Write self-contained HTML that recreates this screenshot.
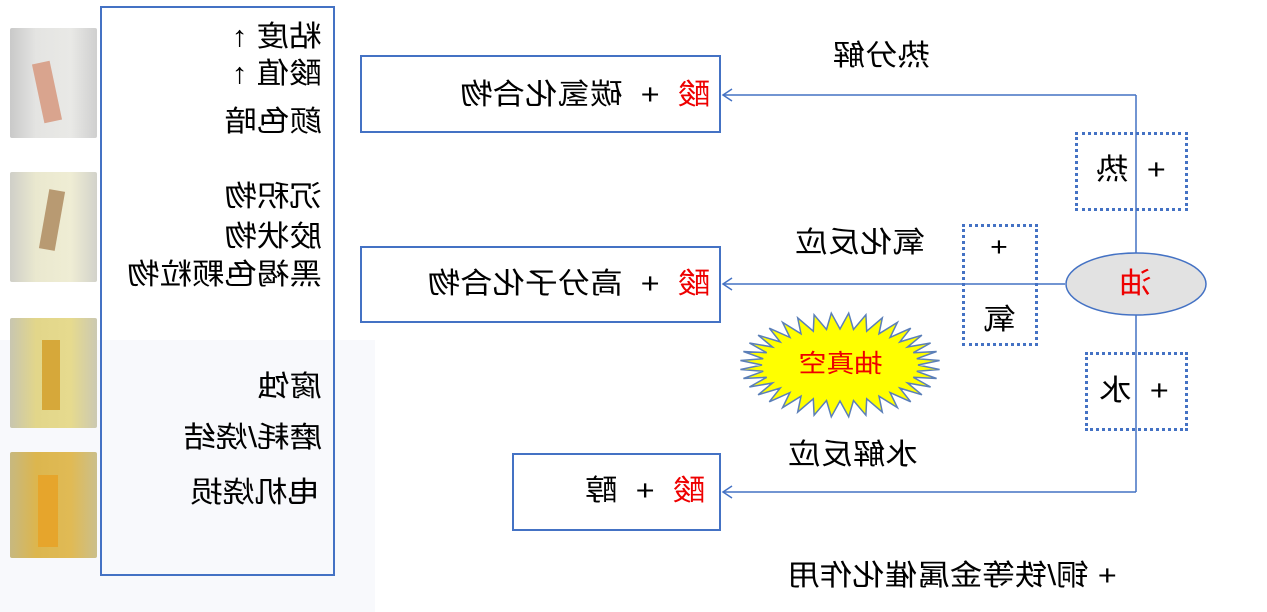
<!DOCTYPE html>
<html><head><meta charset="utf-8">
<style>
html,body{margin:0;padding:0;}
body{width:1267px;height:612px;position:relative;overflow:hidden;background:#fff;font-family:"Liberation Sans","Noto Sans CJK SC",sans-serif;color:#000;}
.a{position:absolute;}
.t{position:absolute;transform:scaleX(-1.12);white-space:nowrap;line-height:1;font-size:29px;}
.L{transform-origin:right center;transform:translateX(-112%) scaleX(-1.12);}
.box{position:absolute;border:2px solid #4472c4;box-sizing:border-box;background:#fff;}
.dot{position:absolute;border:3px dotted #4472c4;box-sizing:border-box;}
.r{color:#e00;}
.ph{position:absolute;left:10px;width:87px;border-radius:2px;}
</style></head><body>
<div class="a" style="left:0;top:340px;width:375px;height:272px;background:#f8f9fc"></div>
<!-- photos -->
<div class="ph" style="top:28px;height:110px;background:linear-gradient(90deg,#c9c9c9,#e4e4e2 30%,#e9e9e6 70%,#cfcfcf)"></div>
<div class="a" style="left:38px;top:62px;width:18px;height:60px;background:#d9a48e;transform:rotate(-12deg)"></div>
<div class="ph" style="top:172px;height:110px;background:linear-gradient(90deg,#cfcfc8,#eae8cf 30%,#efedd4 70%,#d2d2ca)"></div>
<div class="a" style="left:44px;top:190px;width:16px;height:60px;background:#b89a72;transform:rotate(10deg)"></div>
<div class="ph" style="top:318px;height:110px;background:linear-gradient(90deg,#c8c6b0,#e2d68a 30%,#e6da8e 70%,#cbc9b2)"></div>
<div class="a" style="left:42px;top:340px;width:18px;height:70px;background:#d6a83a"></div>
<div class="ph" style="top:452px;height:106px;background:linear-gradient(90deg,#c7b880,#dcb64e 30%,#e0ba55 70%,#cbbf8a)"></div>
<div class="a" style="left:38px;top:475px;width:20px;height:72px;background:#e6a52c"></div>

<!-- left big box -->
<div class="box" style="left:100px;top:6px;width:235px;height:570px;background:transparent"></div>
<div class="t L" style="right:945px;top:23px">粘度 ↑</div>
<div class="t L" style="right:945px;top:60px">酸值 ↑</div>
<div class="t L" style="right:945px;top:108px">颜色暗</div>
<div class="t L" style="right:945px;top:183px">沉积物</div>
<div class="t L" style="right:945px;top:223px">胶状物</div>
<div class="t L" style="right:945px;top:261px">黑褐色颗粒物</div>
<div class="t L" style="right:945px;top:373px">腐蚀</div>
<div class="t L" style="right:945px;top:424px">磨耗/烧结</div>
<div class="t L" style="right:947px;top:479px">电机烧损</div>

<!-- connectors -->
<svg class="a" style="left:0;top:0" width="1267" height="612">
<g stroke="#4472c4" stroke-width="1.5" fill="none">
<line x1="1136" y1="95" x2="1136" y2="492"/>
<line x1="1136" y1="95" x2="724" y2="95"/>
<line x1="1065" y1="284" x2="724" y2="284"/>
<line x1="1136" y1="492" x2="724" y2="492"/>
<polyline points="732,89 723,95 732,101"/>
<polyline points="732,278 723,284 732,290"/>
<polyline points="732,486 723,492 732,498"/>
</g>
<ellipse cx="1136" cy="284" rx="70" ry="31" fill="#e2e2e2" stroke="#4472c4" stroke-width="1.5"/>
<polygon id="star" fill="#ffff00" stroke="#5b7fb8" stroke-width="1.5"/>
</svg>
<script>
(function(){var p=[],n=36,cx=840,cy=365;for(var i=0;i<n*2;i++){var a=Math.PI*i/n;var rx=i%2?100:78,ry=i%2?52:36;p.push((cx+rx*Math.cos(a)).toFixed(1)+","+(cy+ry*Math.sin(a)).toFixed(1));}document.getElementById('star').setAttribute('points',p.join(' '));})();
</script>
<div class="t r" style="left:803px;top:352px;font-size:25px">抽真空</div>
<div class="t r" style="left:1121px;top:270px">油</div>

<!-- result boxes -->
<div class="box" style="left:360px;top:55px;width:361px;height:78px"></div>
<div class="t L" style="right:557px;top:81px"><span class="r">酸</span> &nbsp;+ &nbsp;碳氢化合物</div>
<div class="box" style="left:360px;top:246px;width:361px;height:77px"></div>
<div class="t L" style="right:557px;top:270px"><span class="r">酸</span> &nbsp;+ &nbsp;高分子化合物</div>
<div class="box" style="left:512px;top:453px;width:209px;height:78px"></div>
<div class="t L" style="right:562px;top:477px"><span class="r">酸</span> &nbsp;+ &nbsp;醇</div>

<!-- dotted boxes -->
<div class="dot" style="left:1075px;top:132px;width:113px;height:79px"></div>
<div class="t" style="left:1100px;top:156px">+ &nbsp;热</div>
<div class="dot" style="left:962px;top:224px;width:76px;height:122px"></div>
<div class="t" style="left:991px;top:234px;font-size:27px">+</div>
<div class="t" style="left:985px;top:306px">氧</div>
<div class="dot" style="left:1085px;top:352px;width:103px;height:79px"></div>
<div class="t" style="left:1103px;top:377px">+ &nbsp;水</div>

<!-- labels -->
<div class="t" style="left:838px;top:42px">热分解</div>
<div class="t" style="left:802px;top:229px">氧化反应</div>
<div class="t" style="left:795px;top:441px">水解反应</div>
<div class="t" style="left:805px;top:562px">+ 铜/铁等金属催化作用</div>
</body></html>
